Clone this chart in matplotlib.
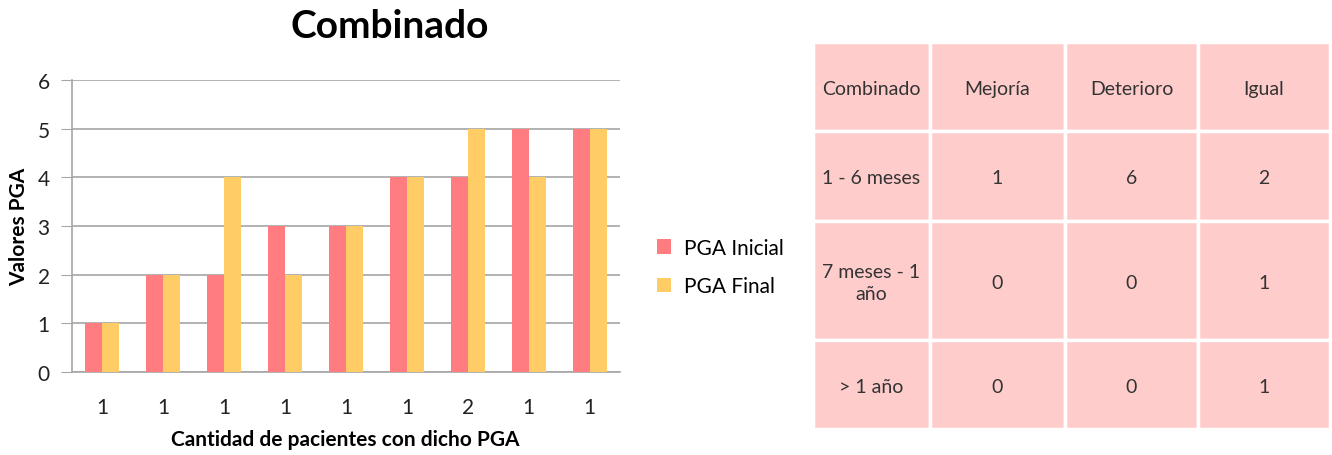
import numpy as np
import matplotlib
matplotlib.use("Agg")
import matplotlib.pyplot as plt
from matplotlib.patches import Rectangle

plt.rcParams["font.family"] = ["Lato", "DejaVu Sans"]

# ── datos del gráfico ────────────────────────────────────────────
categorias = ["1", "1", "1", "1", "1", "1", "2", "1", "1"]
pga_inicial = [1, 2, 2, 3, 3, 4, 4, 5, 5]
pga_final = [1, 2, 4, 2, 3, 4, 5, 4, 5]

# ── datos de la tabla ────────────────────────────────────────────
col_headers = ["Combinado", "Mejoría", "Deterioro", "Igual"]
row_labels = ["1 - 6 meses", "7 meses - 1\naño", "> 1 año"]
tabla_valores = [[1, 6, 2],
                 [0, 0, 1],
                 [0, 0, 1]]

ROJO = "#FF7C80"
AMARILLO = "#FFCC66"
ROSA = "#FFCCCC"
GRIS = "#A6A6A6"

W, H = 1332, 456
fig = plt.figure(figsize=(W / 100, H / 100), dpi=100)

# ── gráfico de barras ────────────────────────────────────────────
ax = fig.add_axes([72 / W, 1 - 373 / H, (620 - 72) / W, (373 - 81) / H])
x = np.arange(len(categorias))
bw = 0.28
ax.bar(x - bw / 2, pga_inicial, bw, color=ROJO, label="PGA Inicial", zorder=3)
ax.bar(x + bw / 2, pga_final, bw, color=AMARILLO, label="PGA Final", zorder=3)
ax.set_xlim(-0.5, len(categorias) - 0.5)
ax.set_ylim(0, 6)
ax.set_yticks(range(7))
ax.set_xticks(x)
ax.set_xticklabels(categorias)
ax.yaxis.grid(True, color=GRIS, linewidth=1.2, zorder=0)
for s in ["top", "right"]:
    ax.spines[s].set_visible(False)
ax.spines["left"].set_color(GRIS)
ax.spines["bottom"].set_color(GRIS)
ax.spines["left"].set_linewidth(1.2)
ax.spines["bottom"].set_linewidth(1.2)
ax.tick_params(axis="y", length=8, color=GRIS, labelsize=15, pad=8,
               labelcolor="#222222")
ax.tick_params(axis="x", length=0, labelsize=15, pad=18, labelcolor="#222222")
ax.set_ylabel("Valores PGA", fontsize=15, fontweight="bold")
ax.yaxis.set_label_coords(-(72 - 29) / 548, 0.5)
ax.set_xlabel("Cantidad de pacientes con dicho PGA", fontsize=15,
              fontweight="bold")
ax.xaxis.set_label_coords((345 - 72) / 548, -(430 - 373) / 292)
fig.text(390 / W, 1 - 27 / H, "Combinado", fontsize=28, fontweight="bold",
         ha="center", va="center")
fig.legend(loc="center left", bbox_to_anchor=(638 / W, 1 - 268 / H),
           frameon=False, fontsize=15, handlelength=0.7, handleheight=0.7,
           labelspacing=0.9, handletextpad=0.6)

# ── tabla ────────────────────────────────────────────────────────
tx = fig.add_axes([0, 0, 1, 1])
tx.set_xlim(0, W)
tx.set_ylim(H, 0)
tx.axis("off")
col_edges = [813, 930, 1065, 1198, 1330]
row_edges = [43, 132, 222, 341, 430]
filas = [col_headers] + [[row_labels[i]] + [str(v) for v in tabla_valores[i]]
                         for i in range(len(row_labels))]
for r, fila in enumerate(filas):
    for c, txt in enumerate(fila):
        x0, x1 = col_edges[c], col_edges[c + 1]
        y0, y1 = row_edges[r], row_edges[r + 1]
        tx.add_patch(Rectangle((x0, y0), x1 - x0, y1 - y0, facecolor=ROSA,
                               edgecolor="white", linewidth=2.5))
        tx.text((x0 + x1) / 2, (y0 + y1) / 2 + 2, txt, ha="center",
                va="center", fontsize=14, color="#333333", linespacing=1.4)

fig.savefig("out.png", dpi=100)
